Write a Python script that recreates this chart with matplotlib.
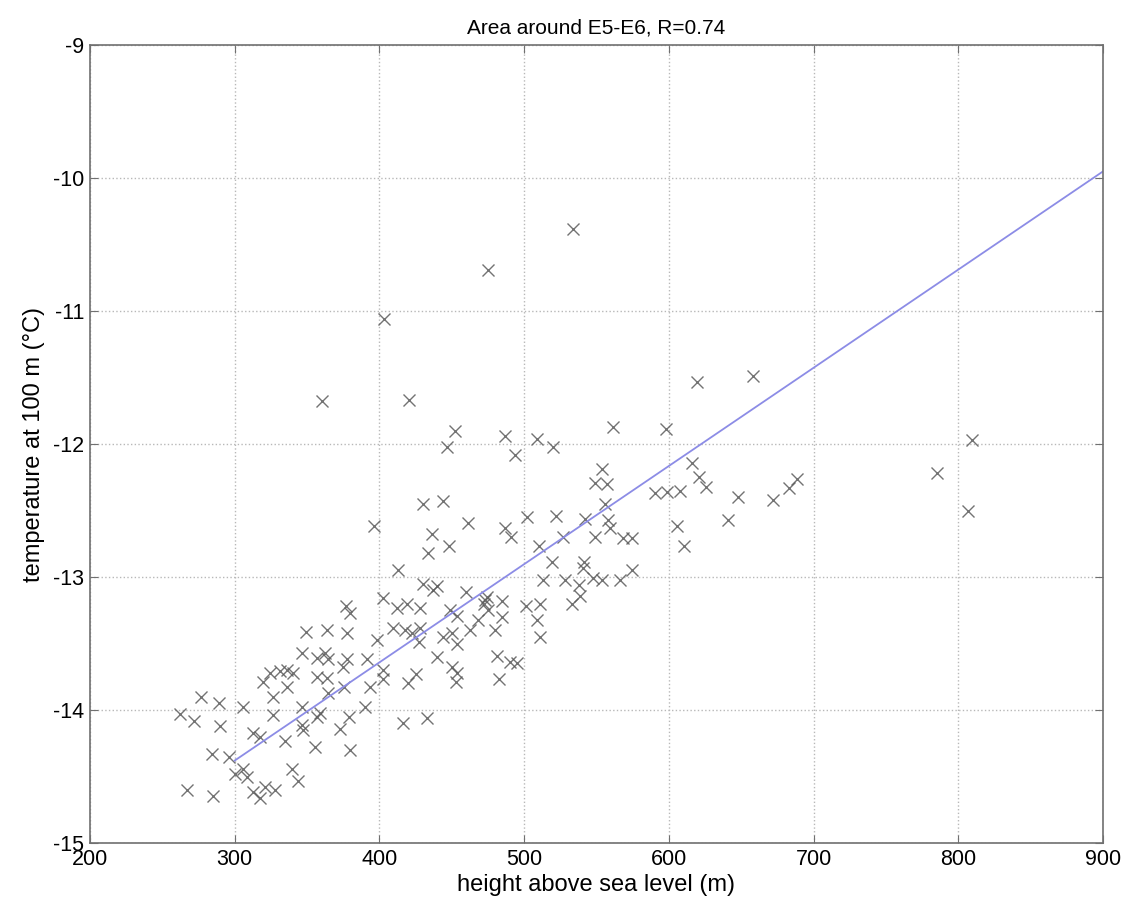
import matplotlib
matplotlib.use("Agg")
import matplotlib.pyplot as plt
import numpy as np

plt.rcParams['font.family'] = ['Liberation Sans', 'DejaVu Sans']
plt.rcParams['axes.unicode_minus'] = False

# height above sea level (m)
height = [
    533.8, 475.1, 403.2, 360.0, 420.5, 452.3, 446.7, 486.8, 508.9, 520.0,
    619.5, 658.2, 561.4, 598.1, 493.7,
    809.5, 785.4, 806.8, 616.0, 620.9, 625.7, 590.5, 598.8, 607.7,
    647.8, 672.0, 683.1, 688.6, 640.9, 605.7, 610.5,
    553.8, 549.0, 557.3, 555.9, 502.0, 522.1, 542.1, 486.8, 491.0,
    558.0, 559.4, 549.0, 568.4, 574.6, 526.9, 510.3,
    519.3, 541.4, 540.7, 574.6, 513.1, 528.3, 537.9, 547.6, 553.8, 566.3,
    538.6, 473.0, 484.7, 501.3, 511.0, 533.1, 474.4, 472.0,
    419.1, 428.1, 448.8, 453.6, 475.1, 484.7,
    462.6, 468.1, 479.9, 508.9, 511.0,
    444.0, 450.2, 453.6, 427.4, 439.8, 481.3, 490.3, 495.1,
    450.2, 453.6, 452.9, 482.7,
    430.1, 444.0, 461.2, 436.4, 433.6, 448.1,
    412.9, 430.1, 439.8, 437.0, 459.9, 402.5, 412.2,
    409.4, 417.7, 422.5, 428.1, 402.5, 402.5, 425.3, 419.8,
    416.3, 432.9, 396.0,
    376.9, 379.7, 349.3, 363.8, 377.6, 398.3,
    346.5, 356.9, 362.4, 364.5, 377.6, 374.8,
    324.4, 331.3, 336.1, 340.3, 319.6, 336.1, 356.9, 363.8,
    391.4, 393.5, 364.5, 375.5, 326.5,
    305.7, 346.5, 390.1, 359.0, 356.9, 346.5, 347.2, 372.8, 379.0, 326.5,
    312.6, 317.5, 334.8, 355.5, 379.7, 339.6, 343.7, 305.7, 308.5,
    320.9, 327.9, 312.6, 317.5,
    262.0, 267.0, 272.0, 277.0, 284.0, 285.0, 289.0, 290.0, 296.0, 300.0,
]

# temperature at 100 m (degC)
temp = [
    -10.38, -10.69, -11.06, -11.68, -11.67, -11.90, -12.02, -11.94, -11.96, -12.02,
    -11.53, -11.49, -11.87, -11.89, -12.08,
    -11.97, -12.22, -12.50, -12.14, -12.25, -12.32, -12.37, -12.36, -12.35,
    -12.40, -12.42, -12.33, -12.26, -12.57, -12.62, -12.77,
    -12.19, -12.29, -12.30, -12.45, -12.55, -12.54, -12.56, -12.63, -12.70,
    -12.57, -12.63, -12.70, -12.71, -12.71, -12.70, -12.77,
    -12.89, -12.89, -12.93, -12.95, -13.02, -13.02, -13.06, -13.01, -13.02, -13.02,
    -13.14, -13.17, -13.18, -13.22, -13.20, -13.20, -13.15, -13.20,
    -13.20, -13.23, -13.25, -13.29, -13.25, -13.30,
    -13.40, -13.32, -13.40, -13.32, -13.45,
    -13.45, -13.42, -13.50, -13.49, -13.60, -13.59, -13.64, -13.65,
    -13.68, -13.72, -13.79, -13.77,
    -12.45, -12.43, -12.59, -12.68, -12.82, -12.77,
    -12.95, -13.05, -13.07, -13.10, -13.11, -13.16, -13.23,
    -13.38, -13.40, -13.42, -13.38, -13.70, -13.77, -13.73, -13.80,
    -14.10, -14.06, -12.62,
    -13.22, -13.27, -13.41, -13.40, -13.42, -13.47,
    -13.57, -13.61, -13.57, -13.62, -13.62, -13.68,
    -13.72, -13.71, -13.70, -13.72, -13.79, -13.83, -13.75, -13.76,
    -13.62, -13.83, -13.87, -13.83, -13.90,
    -13.98, -13.98, -13.98, -14.02, -14.05, -14.11, -14.15, -14.14, -14.05, -14.04,
    -14.17, -14.20, -14.23, -14.28, -14.30, -14.44, -14.53, -14.44, -14.50,
    -14.58, -14.60, -14.62, -14.66,
    -14.03, -14.60, -14.08, -13.90, -14.33, -14.65, -13.95, -14.12, -14.35, -14.48,
]

# fitted line end points
fit_x = [300, 900]
fit_y = [-14.38, -9.95]

fig = plt.figure(figsize=(11.26, 9.06), dpi=100)
ax = fig.add_axes([0.0799, 0.0695, 0.8997, 0.8808])

ax.plot(height, temp, 'x', color='#5a5a5a', ms=8, mew=1.0, alpha=0.85)
ax.plot(fit_x, fit_y, '-', color='#8c8ce6', lw=1.3)

ax.set_xlim(200, 900)
ax.set_ylim(-15, -9)
ax.set_xticks(np.arange(200, 901, 100))
ax.set_yticks(np.arange(-15, -8, 1))
ax.grid(True, linestyle=':', color='#b8b8b8', lw=1)
ax.tick_params(direction='in', top=True, right=True, labelsize=15.5, length=6,
               color='#707070', pad=4)
for sp in ax.spines.values():
    sp.set_color('#707070')
    sp.set_linewidth(1.2)

ax.set_title('Area around E5-E6, R=0.74', fontsize=15, pad=8)
ax.set_xlabel('height above sea level (m)', fontsize=17, labelpad=3)
ax.set_ylabel('temperature at 100 m (\u00b0C)', fontsize=17, labelpad=6)

fig.savefig('out.png', dpi=100)
